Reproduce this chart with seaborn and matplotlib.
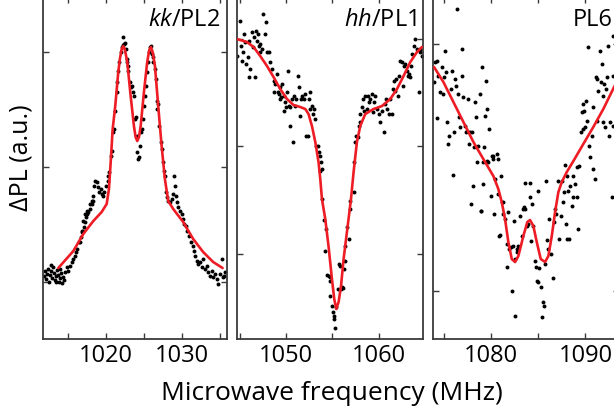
import numpy as np
import matplotlib
matplotlib.use("Agg")
import matplotlib.pyplot as plt
from matplotlib.ticker import MultipleLocator
import seaborn as sns

# ---------------------------------------------------------------- data
# ODMR scans: columns are microwave frequency (MHz) and ΔPL (a.u.)
kk_scan = np.array([
    [1011.84, 63], [1011.97, 68], [1012.11, 60], [1012.24, 65], [1012.37, 70],
    [1012.50, 57], [1012.63, 64], [1012.76, 68], [1012.89, 61], [1013.03, 72],
    [1013.16, 66], [1013.29, 59], [1013.42, 63], [1013.55, 69], [1013.68, 64],
    [1013.82, 57], [1013.95, 61], [1014.08, 66], [1014.21, 56], [1014.34, 62],
    [1014.47, 59], [1014.61, 67], [1012.76, 74], [1013.42, 57], [1013.95, 70],
    [1014.83, 72], [1015.04, 68], [1015.26, 73], [1015.49, 77], [1015.62, 80],
    [1015.92, 83], [1016.05, 87], [1016.22, 90], [1016.49, 97], [1016.58, 97],
    [1016.71, 102], [1016.80, 107], [1016.80, 108], [1017.01, 108], [1017.01, 118],
    [1017.11, 112], [1017.24, 117], [1017.24, 125], [1017.37, 122], [1017.46, 128],
    [1017.54, 125], [1017.67, 127], [1017.89, 130], [1017.89, 135], [1018.12, 135],
    [1018.12, 138], [1018.25, 138], [1018.33, 143], [1018.46, 153], [1018.55, 158],
    [1018.78, 157], [1018.99, 152], [1019.12, 147], [1019.30, 150], [1019.43, 145],
    [1019.57, 143], [1019.74, 147], [1020.00, 153], [1020.22, 158], [1020.30, 163],
    [1020.43, 167], [1020.62, 183], [1020.75, 188], [1020.96, 207], [1021.05, 210],
    [1021.18, 228], [1021.41, 247], [1021.49, 257], [1021.62, 268], [1021.75, 277],
    [1021.93, 287], [1022.07, 292], [1022.20, 294], [1022.28, 302], [1022.37, 295],
    [1022.50, 296], [1022.63, 290], [1022.72, 280], [1022.80, 277], [1022.93, 273],
    [1022.93, 268], [1023.16, 257], [1023.25, 252], [1023.38, 253], [1023.51, 247],
    [1023.68, 243], [1023.82, 220], [1023.95, 222], [1024.04, 203], [1024.12, 187],
    [1024.21, 180], [1024.38, 182], [1024.47, 193], [1024.57, 207], [1024.70, 210],
    [1024.83, 220], [1025.00, 233], [1025.13, 243], [1025.26, 253], [1025.43, 267],
    [1025.57, 277], [1025.70, 287], [1025.79, 292], [1025.92, 293], [1026.01, 285],
    [1026.14, 282], [1026.22, 277], [1026.45, 270], [1026.58, 260], [1026.67, 238],
    [1026.75, 230], [1026.88, 235], [1027.01, 213], [1027.20, 197], [1027.33, 190],
    [1027.46, 177], [1027.63, 168], [1027.76, 163], [1027.89, 147], [1027.99, 142],
    [1028.20, 138], [1028.42, 137], [1028.64, 140], [1028.86, 145], [1028.99, 163],
    [1029.08, 153], [1029.21, 143], [1029.30, 137], [1029.51, 132], [1029.74, 128],
    [1029.96, 125], [1030.17, 120], [1030.26, 115], [1030.53, 113], [1030.70, 108],
    [1030.96, 103], [1031.14, 97], [1031.41, 93], [1031.58, 88], [1031.71, 83],
    [1031.93, 78], [1032.14, 75], [1032.37, 77], [1032.59, 72], [1032.80, 80],
    [1033.03, 70], [1033.25, 73], [1033.46, 67], [1033.68, 63], [1033.91, 68],
    [1034.12, 62], [1034.34, 65], [1034.57, 60], [1034.78, 55], [1035.00, 65],
    [1035.22, 80], [1035.36, 62], [1035.53, 63], [1035.66, 67],
])
kk_fit_freq = [1013.72, 1015.70, 1017.01, 1018.33, 1019.43, 1020.09, 1020.39,
               1020.62, 1020.88, 1021.22, 1021.62, 1021.85, 1022.07, 1022.28,
               1022.50, 1022.80, 1023.25, 1023.68, 1023.90, 1024.12, 1024.35,
               1024.57, 1025.00, 1025.43, 1025.70, 1025.92, 1026.15, 1026.45,
               1026.88, 1027.33, 1027.76, 1028.20, 1028.86, 1030.17, 1031.49,
               1032.80, 1034.12, 1035.36]
kk_fit_dpl = [71, 88, 105, 118, 127, 135, 150,
              177, 210, 233, 267, 281, 290, 293,
              289, 277, 243, 213, 202, 198, 202,
              213, 247, 277, 289, 292, 287, 273,
              233, 193, 160, 138, 130, 117, 100,
              87, 77, 71]

hh_scan = np.array([
    [1044.69, 283], [1045.05, 318], [1045.12, 293], [1045.23, 278], [1045.34, 287],
    [1045.48, 305], [1045.59, 297], [1045.70, 275], [1045.84, 282], [1045.95, 262],
    [1046.05, 298], [1046.13, 270], [1046.31, 307], [1046.42, 292], [1046.49, 302],
    [1046.67, 262], [1046.78, 308], [1046.85, 298], [1046.92, 305], [1047.03, 293],
    [1047.14, 287], [1047.21, 295], [1047.39, 290], [1047.50, 325], [1047.75, 305],
    [1047.86, 317], [1047.94, 287], [1048.11, 287], [1048.22, 277], [1048.48, 270],
    [1048.65, 247], [1048.72, 258], [1048.83, 255], [1049.02, 265], [1049.08, 247],
    [1049.19, 245], [1049.30, 252], [1049.37, 240], [1049.48, 242], [1049.56, 255],
    [1049.73, 243], [1049.81, 228], [1049.91, 237], [1050.02, 232], [1050.10, 247],
    [1050.21, 268], [1050.27, 233], [1050.38, 213], [1050.45, 232], [1050.64, 240],
    [1050.75, 197], [1050.81, 243], [1050.99, 233], [1051.10, 240], [1051.24, 263],
    [1051.35, 252], [1051.46, 223], [1051.61, 240], [1051.72, 243], [1051.89, 240],
    [1052.08, 245], [1052.18, 203], [1052.32, 203], [1052.43, 240], [1052.54, 247],
    [1052.62, 230], [1052.80, 233], [1052.91, 225], [1053.05, 230], [1053.16, 220],
    [1053.26, 193], [1053.41, 193], [1053.51, 187], [1053.70, 183], [1053.77, 177],
    [1053.88, 170], [1053.70, 168], [1053.88, 140], [1054.13, 119], [1054.35, 110],
    [1054.24, 88], [1054.42, 64], [1054.59, 63], [1054.70, 58], [1054.78, 62],
    [1054.70, 43], [1054.96, 33], [1055.07, 27], [1055.13, 23], [1055.21, 20],
    [1055.32, 11], [1055.43, 32], [1055.57, 50], [1055.68, 75], [1055.78, 73],
    [1055.93, 50], [1056.04, 52], [1056.15, 51], [1056.29, 70], [1056.40, 78],
    [1056.40, 93], [1056.58, 112], [1056.76, 100], [1056.86, 130], [1056.94, 138],
    [1057.30, 147], [1057.37, 177], [1057.48, 197], [1057.59, 203], [1057.73, 202],
    [1057.84, 213], [1057.95, 217], [1058.02, 225], [1058.20, 232], [1058.31, 240],
    [1058.45, 228], [1058.56, 243], [1058.75, 230], [1058.81, 243], [1058.92, 237],
    [1059.10, 240], [1059.29, 245], [1059.39, 227], [1059.46, 237], [1059.64, 243],
    [1059.83, 230], [1060.00, 225], [1060.18, 217], [1060.37, 228], [1060.54, 207],
    [1060.65, 235], [1060.83, 240], [1060.91, 230], [1061.08, 225], [1061.26, 240],
    [1061.45, 225], [1061.56, 250], [1061.62, 258], [1061.80, 248], [1061.91, 260],
    [1062.05, 243], [1062.16, 263], [1062.35, 278], [1062.53, 277], [1062.64, 253],
    [1062.78, 273], [1062.89, 275], [1063.07, 268], [1063.13, 263], [1063.24, 265],
    [1063.43, 262], [1063.50, 273], [1063.61, 285], [1063.78, 293], [1063.97, 300],
    [1064.15, 290], [1064.32, 247], [1064.43, 287], [1064.51, 290], [1064.69, 283],
])
hh_fit_freq = [1044.69, 1045.05, 1045.77, 1046.49, 1047.21, 1047.94, 1048.65,
               1049.37, 1050.10, 1050.81, 1051.54, 1052.08, 1052.43, 1052.80,
               1053.16, 1053.51, 1053.70, 1053.88, 1054.24, 1054.59, 1054.96,
               1055.21, 1055.43, 1055.68, 1055.94, 1056.22, 1056.58, 1057.02,
               1057.30, 1057.66, 1058.02, 1058.56, 1059.46, 1060.37, 1061.26,
               1061.99, 1062.70, 1063.43, 1064.15, 1064.69]
hh_fit_dpl = [300, 299, 297, 292, 283, 273, 262,
              250, 240, 234, 232, 230, 225, 213,
              197, 177, 160, 140, 120, 93, 60,
              40, 30, 37, 53, 80, 107, 140,
              167, 197, 213, 225, 230, 233, 240,
              250, 263, 277, 287, 292]

pl6_scan = np.array([
    [1076.37, 330], [1073.95, 257], [1074.07, 277], [1074.31, 278], [1074.42, 263],
    [1074.25, 221], [1074.60, 247], [1074.78, 272], [1074.89, 245], [1075.02, 262],
    [1075.13, 288], [1075.23, 267], [1075.31, 217], [1075.48, 195], [1075.58, 203],
    [1075.73, 250], [1075.84, 268], [1075.94, 164], [1076.08, 207], [1076.19, 260],
    [1076.29, 253], [1076.54, 245], [1076.64, 222], [1076.72, 212], [1076.90, 263],
    [1076.90, 290], [1077.07, 242], [1077.25, 213], [1077.35, 207], [1077.49, 208],
    [1077.60, 240], [1077.70, 195], [1077.78, 207], [1077.85, 135], [1077.96, 207],
    [1078.06, 153], [1078.20, 192], [1078.31, 237], [1078.41, 222], [1078.55, 177],
    [1078.66, 193], [1078.84, 245], [1078.91, 128], [1078.94, 128], [1079.02, 272],
    [1079.12, 177], [1079.18, 155], [1079.26, 192], [1079.36, 223], [1079.47, 258],
    [1079.54, 230], [1079.61, 178], [1079.71, 177], [1079.82, 210], [1079.97, 143],
    [1080.07, 183], [1080.18, 183], [1080.24, 180], [1080.32, 125], [1080.42, 160],
    [1080.60, 185], [1080.71, 180], [1080.77, 145], [1080.88, 103], [1080.95, 104],
    [1081.03, 163], [1081.13, 137], [1081.24, 137], [1081.30, 125], [1081.48, 120],
    [1081.66, 95], [1081.73, 72], [1081.83, 127], [1081.94, 90], [1082.09, 92],
    [1082.19, 48], [1082.30, 93], [1082.44, 118], [1082.54, 80], [1082.54, 23],
    [1082.72, 90], [1082.79, 87], [1082.89, 93], [1083.07, 123], [1083.25, 103],
    [1083.36, 130], [1083.49, 132], [1083.60, 130], [1083.63, 156], [1083.78, 113],
    [1083.95, 115], [1084.13, 156], [1084.13, 142], [1084.20, 98], [1084.31, 135],
    [1084.48, 113], [1084.66, 78], [1084.77, 72], [1084.90, 58], [1085.01, 148],
    [1085.11, 71], [1085.01, 57], [1085.26, 52], [1085.48, 37], [1085.61, 33],
    [1085.37, 22], [1085.72, 75], [1085.82, 158], [1085.96, 99], [1086.07, 90],
    [1086.17, 120], [1086.32, 85], [1086.53, 61], [1086.67, 117], [1086.78, 130],
    [1086.88, 125], [1087.13, 158], [1087.23, 100], [1087.38, 123], [1087.49, 158],
    [1087.59, 137], [1087.73, 147], [1087.84, 174], [1087.94, 115], [1088.02, 100],
    [1088.08, 163], [1088.19, 148], [1088.29, 100], [1088.37, 153], [1088.55, 133],
    [1088.65, 163], [1088.72, 142], [1088.90, 155], [1089.08, 142], [1089.14, 172],
    [1089.24, 110], [1089.35, 173], [1089.50, 207], [1089.61, 227], [1089.71, 235],
    [1089.77, 210], [1089.85, 228], [1089.95, 212], [1090.06, 238], [1090.13, 218],
    [1090.30, 292], [1090.41, 193], [1090.48, 182], [1090.66, 203], [1090.77, 170],
    [1090.83, 232], [1091.01, 160], [1091.12, 262], [1091.19, 218], [1091.26, 260],
    [1091.36, 248], [1091.54, 288], [1091.62, 257], [1091.72, 275], [1091.83, 243],
    [1091.89, 217], [1091.97, 255], [1092.07, 212], [1092.18, 250], [1092.32, 262],
    [1092.42, 293], [1092.53, 203], [1092.60, 217], [1092.78, 142], [1092.89, 263],
    [1092.89, 303], [1092.95, 213],
])
pl6_fit_freq = [1073.96, 1074.95, 1076.01, 1077.07, 1078.13, 1079.18, 1080.24,
                1080.77, 1081.13, 1081.48, 1081.83, 1082.19, 1082.54, 1082.89,
                1083.42, 1083.84, 1084.13, 1084.48, 1084.84, 1085.26, 1085.72,
                1086.07, 1086.43, 1086.78, 1087.13, 1087.49, 1088.02, 1088.72,
                1089.77, 1090.83, 1091.89, 1093.03, 1093.61]
pl6_fit_dpl = [272, 257, 237, 217, 197, 180, 163,
               150, 137, 120, 97, 80, 77, 83,
               103, 117, 119, 113, 97, 80, 77,
               83, 103, 127, 147, 157, 167, 178,
               195, 212, 230, 252, 262]

panel_names = [r"$kk$/PL2", r"$hh$/PL1", "PL6"]
freq_limits = [(1011.7, 1035.9), (1044.7, 1064.8), (1073.9, 1093.6)]
dpl_ticks = [[57, 172, 287], [85, 193, 300], [48.5, 295]]

# ---------------------------------------------------------------- style
sns.set_style("ticks")
plt.rcParams["font.family"] = ["Open Sans", "DejaVu Sans"]
plt.rcParams["mathtext.fontset"] = "custom"
plt.rcParams["mathtext.it"] = "Open Sans:italic"
plt.rcParams["mathtext.rm"] = "Open Sans"
plt.rcParams["text.color"] = "black"
plt.rcParams["xtick.labelcolor"] = "black"

spine_color = "#3a3a3a"
fit_color = "#ee1c24"
font_size = 17

fig = plt.figure(figsize=(6.14, 4.14), dpi=100)
fig.patch.set_facecolor("white")

left_edges = [0.0700, 0.3860, 0.7060]
widths = [0.2992, 0.3029, 0.3029]
bottom, height = 0.1787, 0.8261

scans = [kk_scan, hh_scan, pl6_scan]
fits = [(kk_fit_freq, kk_fit_dpl), (hh_fit_freq, hh_fit_dpl),
        (pl6_fit_freq, pl6_fit_dpl)]

for i in range(3):
    ax = fig.add_axes([left_edges[i], bottom, widths[i], height])
    scan = scans[i]
    sns.scatterplot(x=scan[:, 0], y=scan[:, 1], ax=ax, color="black", s=8,
                    linewidth=0, legend=False, zorder=2)
    sns.lineplot(x=fits[i][0], y=fits[i][1], ax=ax, color=fit_color, lw=1.9,
                 estimator=None, sort=False, zorder=3)
    ax.set_xlim(*freq_limits[i])
    ax.set_ylim(0, 342)
    ax.xaxis.set_major_locator(MultipleLocator(10))
    ax.xaxis.set_minor_locator(MultipleLocator(5))
    ax.set_yticks(dpl_ticks[i])
    ax.set_yticklabels([])
    ax.tick_params(which="both", direction="in", top=True, right=True,
                   length=4, width=1, color=spine_color,
                   labelsize=font_size, labelcolor="black", pad=3)
    for sp in ax.spines.values():
        sp.set_color(spine_color)
        sp.set_linewidth(1.3)
        sp.set_visible(True)
    ax.set_xlabel("")
    ax.set_ylabel("")
    ax.text(0.965, 0.918, panel_names[i], transform=ax.transAxes,
            ha="right", va="baseline", fontsize=font_size)

fig.text(332 / 614, 0.05, "Microwave frequency (MHz)", ha="center",
         va="center", fontsize=19)
fig.text(0.034, 0.62, "ΔPL (a.u.)", ha="center", va="center",
         rotation=90, fontsize=18)

fig.savefig("out.png", dpi=100, facecolor="white")
